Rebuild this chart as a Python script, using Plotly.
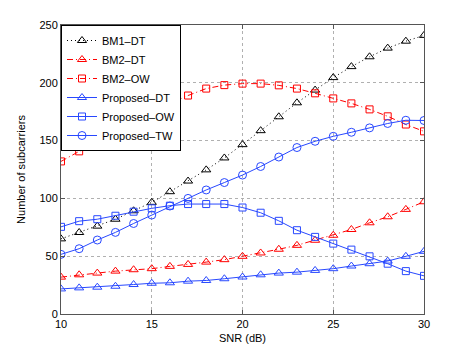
import plotly.graph_objects as go

snr = list(range(10, 31))

bm1_dt = [65, 70.5, 76, 82, 89.3, 96.6, 105.8, 115, 124.7, 135, 146.5, 158.6, 170.6, 182.7, 193.7, 204.5, 214, 222.5, 230, 236, 241]
bm2_dt = [31.9, 33.9, 35.4, 37.1, 38.3, 39.2, 41.2, 42.9, 44.9, 47, 49.9, 52.8, 56, 59.4, 63.8, 68.1, 73.1, 78.9, 84.1, 90.5, 97.1]
bm2_ow = [132, 140.7, 148, 157.2, 165, 173, 182, 189, 195, 198, 199.3, 199.3, 197.8, 195, 190.9, 186.5, 182.2, 177, 171, 163.9, 158]
prop_dt = [21.7, 22.6, 23.2, 24, 25.5, 26.6, 27, 28.4, 29, 30.5, 32, 33.9, 35.4, 36.2, 37.7, 39.2, 41.5, 43.5, 45.8, 49.9, 54.2]
prop_ow = [75.4, 80.3, 82, 85, 88.5, 91.4, 93.7, 95.1, 95.1, 95.1, 92.1, 87.6, 80.6, 72.5, 66.7, 60.9, 55.7, 49.9, 43.5, 37.1, 33]
prop_tw = [51.6, 56.5, 64, 70.6, 78.3, 85.6, 93.4, 100, 107.3, 113.7, 120.2, 127.6, 135.8, 144, 149.4, 153.7, 157.2, 161, 164.8, 167.6, 167.4]

x_ticks = [10, 15, 20, 25, 30]
y_ticks = [0, 50, 100, 150, 200, 250]

BLUE = "#2848ff"
RED = "#ff0000"
FONT = "Liberation Sans, Arial, sans-serif"

series = [
    ("BM1\u2013DT", bm1_dt, "black", "1px,3px", "triangle-up-open", 8),
    ("BM2\u2013DT", bm2_dt, RED, "6px,3px,1px,3px", "triangle-up-open", 8),
    ("BM2\u2013OW", bm2_ow, RED, "6px,3px,1px,3px", "square-open", 7),
    ("Proposed\u2013DT", prop_dt, BLUE, "solid", "triangle-up-open", 8),
    ("Proposed\u2013OW", prop_ow, BLUE, "solid", "square-open", 7),
    ("Proposed\u2013TW", prop_tw, BLUE, "solid", "circle-open", 8),
]

fig = go.Figure()
for name, ys, col, dash, sym, sz in series:
    fig.add_trace(go.Scatter(
        x=snr, y=ys, name=name, mode="lines+markers",
        line=dict(color=col, width=1, dash=dash),
        marker=dict(symbol=sym, size=sz, color=col, line=dict(width=1, color=col)),
    ))

axis_common = dict(
    showline=True, linecolor="#555", linewidth=1, mirror="ticks",
    ticks="inside", ticklen=4, tickcolor="#555",
    showgrid=True, gridcolor="#b0b0b0", griddash="dot", gridwidth=1,
    zeroline=False,
    tickfont=dict(family=FONT, size=11, color="black"),
)

fig.update_xaxes(range=[10, 30], tickvals=x_ticks, ticktext=[str(v) for v in x_ticks],
                 title=dict(text="SNR (dB)", standoff=5,
                            font=dict(family=FONT, size=11, color="black")),
                 **axis_common)
fig.update_yaxes(range=[0, 250], tickvals=y_ticks, ticktext=[str(v) for v in y_ticks],
                 title=dict(text="Number of subcarriers", standoff=11,
                            font=dict(family=FONT, size=11, color="black")),
                 **axis_common)

fig.update_layout(
    width=469, height=355,
    margin=dict(l=53, r=53, t=17, b=49),
    paper_bgcolor="white", plot_bgcolor="white",
    font=dict(family=FONT, size=11, color="black"),
    legend=dict(x=0, y=1, xanchor="left", yanchor="top",
                bgcolor="white", bordercolor="black", borderwidth=1,
                font=dict(size=11), tracegroupgap=0, itemwidth=30),
    showlegend=True,
)

fig.write_html("out.html")
